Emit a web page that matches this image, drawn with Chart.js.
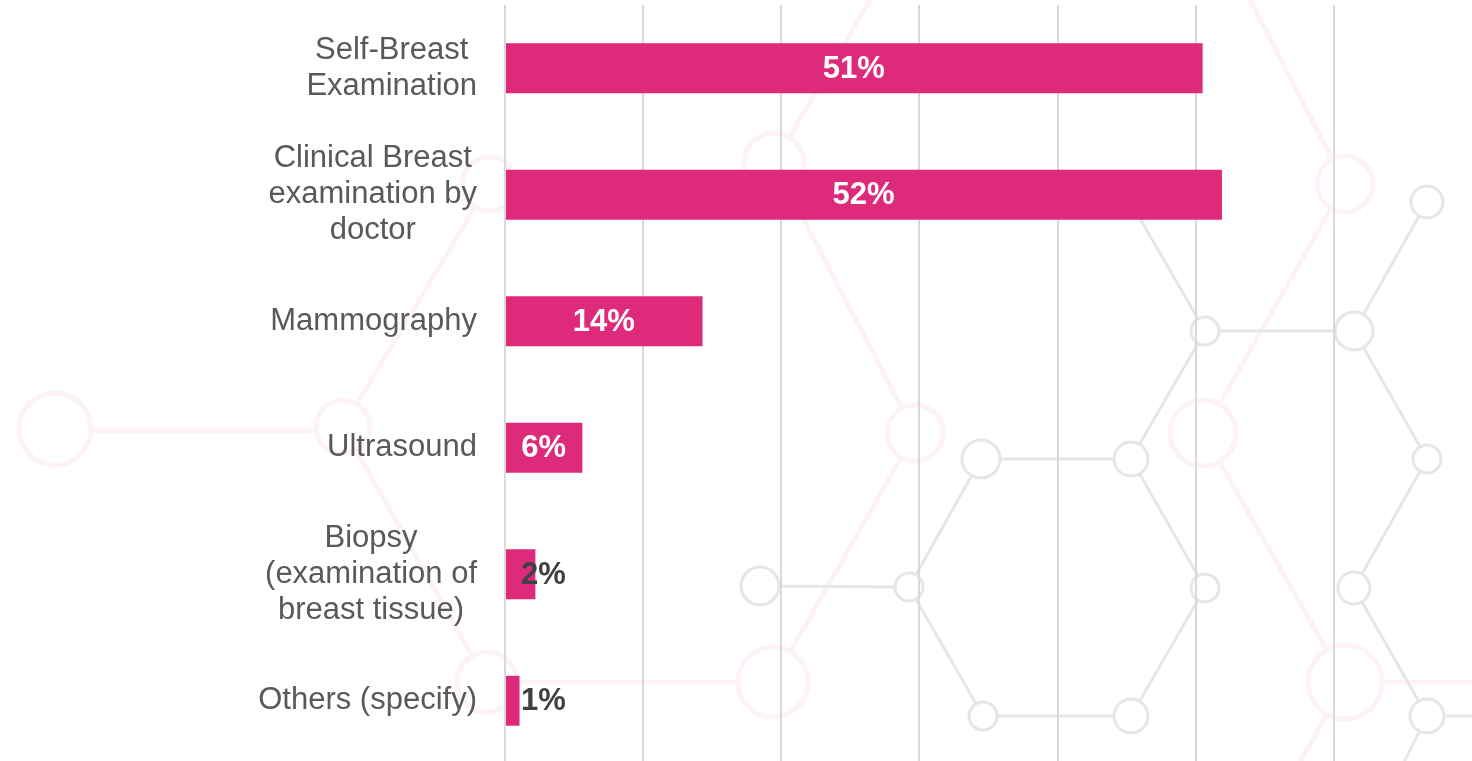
<!DOCTYPE html>
<html>
<head>
<meta charset="utf-8">
<script src="https://cdn.jsdelivr.net/npm/chart.js@4"></script>
<style>
    html, body { margin: 0; padding: 0; background: #fff; overflow: hidden; }
    #wrap { width: 1472px; height: 764px; }
</style>
</head>
<body>
<div id="wrap"><canvas id="chart" width="1472" height="764"></canvas></div>
<script>
// ─── Data ─────────────────────────────────────────────────────────
const categories = [
    ['Self-Breast', 'Examination'],
    ['Clinical Breast', 'examination by', 'doctor'],
    ['Mammography'],
    ['Ultrasound'],
    ['Biopsy', '(examination of', 'breast tissue)'],
    ['Others (specify)'],
];
const shares = [50.5, 51.9, 14.3, 5.6, 2.2, 1.05];
const shareLabels = ['51%', '52%', '14%', '6%', '2%', '1%'];
const gridTicks = [0, 10, 20, 30, 40, 50, 60];
const axisMax = 70;

// ─── Styling ──────────────────────────────────────────────────────
const PINK = '#DE2A7A';
const FONT = '"Liberation Sans", Arial, sans-serif';

// Faint molecule pattern behind the chart (page decoration, not data)
const BACKDROP = {
    pinkLines: [
        [92, 431, 317, 431], [343, 427, 489, 184], [343, 427, 487, 682],
        [487, 682, 773, 682], [774, 163, 915, 433], [915, 433, 773, 682],
        [774, 163, 870, 0], [1345, 184, 1203, 433], [1203, 433, 1345, 682],
        [1345, 682, 1472, 682], [1345, 682, 1290, 780], [1345, 184, 1250, 0],
    ],
    pinkCircles: [
        [55, 429, 36], [343, 427, 27], [489, 184, 27], [487, 682, 30],
        [774, 163, 30], [915, 433, 28], [773, 682, 35], [1345, 184, 28],
        [1203, 433, 33], [1345, 682, 37],
    ],
    greyLines: [
        [1205, 331, 1354, 331], [1354, 331, 1427, 202], [1354, 331, 1427, 459],
        [1427, 459, 1354, 588], [1354, 588, 1427, 716], [1427, 716, 1480, 716],
        [1427, 716, 1400, 770], [1205, 331, 1131, 459], [1205, 331, 1131, 203],
        [981, 459, 1131, 459], [1131, 459, 1205, 588], [1205, 588, 1131, 716],
        [1131, 716, 983, 716], [983, 716, 909, 587], [909, 587, 981, 459],
        [909, 587, 760, 586],
    ],
    greyCircles: [
        [1205, 331, 14], [1354, 331, 19], [1427, 202, 16], [1427, 459, 14],
        [1354, 588, 16], [1427, 716, 17], [981, 459, 19], [1131, 459, 17],
        [1205, 588, 14], [1131, 716, 17], [983, 716, 14], [909, 587, 14],
        [760, 586, 19], [1131, 203, 14],
    ],
};

// ─── Plugins ──────────────────────────────────────────────────────
const backdropPlugin = {
    id: 'backdrop',
    beforeDraw(chart) {
        const ctx = chart.ctx;
        ctx.save();
        const layer = (lines, circles, color, width) => {
            ctx.strokeStyle = color;
            ctx.lineWidth = width;
            lines.forEach(([x1, y1, x2, y2]) => {
                ctx.beginPath();
                ctx.moveTo(x1, y1);
                ctx.lineTo(x2, y2);
                ctx.stroke();
            });
            circles.forEach(([x, y, r]) => {
                ctx.beginPath();
                ctx.arc(x, y, r, 0, Math.PI * 2);
                ctx.fillStyle = '#fff';
                ctx.fill();
                ctx.stroke();
            });
        };
        layer(BACKDROP.pinkLines, BACKDROP.pinkCircles, '#fdf3f6', 5);
        layer(BACKDROP.greyLines, BACKDROP.greyCircles, '#e6e6e6', 3);
        ctx.restore();
    },
};

const categoryLabels = {
    id: 'categoryLabels',
    afterDraw(chart) {
        const ctx = chart.ctx;
        const y = chart.scales.y;
        const rightEdge = chart.chartArea.left - 28;
        const lineHeight = 36;
        ctx.save();
        ctx.font = `31px ${FONT}`;
        ctx.fillStyle = '#595959';
        ctx.textAlign = 'center';
        ctx.textBaseline = 'middle';
        categories.forEach((lines, i) => {
            const widest = Math.max(...lines.map(l => ctx.measureText(l).width));
            const cx = rightEdge - widest / 2;
            const cy = y.getPixelForValue(i);
            const top = cy - (lines.length - 1) * lineHeight / 2;
            lines.forEach((l, k) => ctx.fillText(l, cx, top + k * lineHeight));
        });
        ctx.restore();
    },
};

const valueLabels = {
    id: 'valueLabels',
    afterDatasetsDraw(chart) {
        const ctx = chart.ctx;
        const meta = chart.getDatasetMeta(0);
        const x0 = chart.scales.x.getPixelForValue(0);
        ctx.save();
        ctx.font = `bold 31px ${FONT}`;
        ctx.textBaseline = 'middle';
        meta.data.forEach((bar, i) => {
            if (shares[i] >= 5) {
                ctx.fillStyle = '#ffffff';
                ctx.textAlign = 'center';
                ctx.fillText(shareLabels[i], (x0 + bar.x) / 2, bar.y + 1);
            } else {
                ctx.fillStyle = '#404040';
                ctx.textAlign = 'left';
                ctx.fillText(shareLabels[i], x0 + 16, bar.y + 1);
            }
        });
        ctx.restore();
    },
};

// ─── Chart ────────────────────────────────────────────────────────
new Chart(document.getElementById('chart'), {
    type: 'bar',
    data: {
        labels: categories,
        datasets: [{
            data: shares,
            backgroundColor: PINK,
            barPercentage: 0.395,
            categoryPercentage: 1,
        }],
    },
    options: {
        indexAxis: 'y',
        responsive: false,
        devicePixelRatio: 1,
        animation: false,
        layout: { padding: { top: 5, left: 0, right: 0, bottom: 0 } },
        plugins: { legend: { display: false }, tooltip: { enabled: false } },
        scales: {
            x: {
                min: 0,
                max: axisMax,
                afterBuildTicks: s => { s.ticks = gridTicks.map(v => ({ value: v })); },
                ticks: { display: false },
                grid: { color: '#d9d9d9', lineWidth: 2, drawTicks: false },
                border: { display: false },
                afterFit: s => { s.height = 0; },
            },
            y: {
                ticks: { display: false },
                grid: { display: false },
                border: { display: false },
                afterFit: s => { s.width = 505; },
            },
        },
    },
    plugins: [backdropPlugin, categoryLabels, valueLabels],
});
</script>
</body>
</html>
